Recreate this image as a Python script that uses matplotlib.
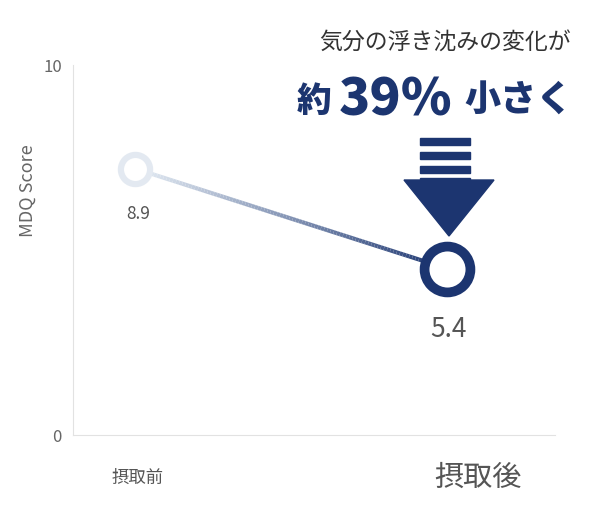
import matplotlib
matplotlib.use("Agg")
import matplotlib.pyplot as plt
import numpy as np
from matplotlib.collections import LineCollection
from matplotlib.patches import Polygon, Rectangle

plt.rcParams['font.family'] = ['Noto Sans CJK JP', 'DejaVu Sans']

categories = ["摂取前", "摂取後"]
plot_pos = [7.2, 4.5]          # drawn heights
value_labels = ["8.9", "5.4"]
yticks = [0, 10]

W, H = 606, 530
fig = plt.figure(figsize=(W/100, H/100), dpi=100)
ax = fig.add_axes([73/W, (H-435)/H, (555-73)/W, 370/H])
ax.set_xlim(-0.199, 1.346)
ax.set_ylim(0, 10)
for s in ["top", "right"]:
    ax.spines[s].set_visible(False)
for s in ["left", "bottom"]:
    ax.spines[s].set_color("#e2e2e2")
ax.set_yticks(yticks)
ax.set_yticklabels([str(t) for t in yticks], color="#666", fontsize=12)
ax.tick_params(length=0, pad=8)
ax.set_xticks([])
ax.set_ylabel("MDQ Score", color="#666", fontsize=13, labelpad=8)
ax.yaxis.set_label_coords(-0.075, 0.66)

x = np.arange(len(plot_pos))
t = np.linspace(0, 1, 100)
xs = x[0] + (x[1]-x[0])*t
ys = plot_pos[0] + (plot_pos[1]-plot_pos[0])*t
pts = np.array([xs, ys]).T.reshape(-1, 1, 2)
segs = np.concatenate([pts[:-1], pts[1:]], axis=1)
c0 = np.array([0.90, 0.93, 0.96]); c1 = np.array([0.11, 0.21, 0.44])
cols = [c0 + (c1-c0)*v for v in t[:-1]]
ax.add_collection(LineCollection(segs, colors=cols, linewidths=3, zorder=2))
ax.plot(x[0], plot_pos[0], 'o', ms=21, mfc='white', mec='#e3e9f1', mew=4.5, zorder=3, clip_on=False)
ax.plot(x[1], plot_pos[1], 'o', ms=33, mfc='white', mec='#1c3570', mew=7, zorder=3, clip_on=False)

ax.annotate(value_labels[0], (x[0], plot_pos[0]), xytext=(2, -33), textcoords='offset points',
            ha='center', va='center', fontsize=12.5, color='#555')
ax.annotate(value_labels[1], (x[1], plot_pos[1]), xytext=(1, -44), textcoords='offset points',
            ha='center', va='center', fontsize=19, color='#555')

fig.text(138/W, 1-478/H, categories[0], ha='center', va='center', fontsize=12.5, color='#555')
fig.text(478/W, 1-478/H, categories[1], ha='center', va='center', fontsize=21, color='#555')

navy = '#1c3570'
fig.text(445/W, 1-42/H, "気分の浮き沈みの変化が", ha='center', va='center', fontsize=16.5, color='#333')
fig.text(297/W, 1-101/H, "約", ha='left', va='center', fontsize=25, color=navy, fontweight='black')
fig.text(339/W, 1-100/H, "39%", ha='left', va='center', fontsize=37, color=navy, fontweight='black')
fig.text(464/W, 1-101/H, "小さく", ha='left', va='center', fontsize=26, color=navy, fontweight='black')

def fx(px): return px/W
def fy(py): return 1-py/H
for yb in [138, 152, 166]:
    fig.patches.append(Rectangle((fx(420), fy(yb+7)), 50/W, 7/H, transform=fig.transFigure, color=navy))
fig.patches.append(Rectangle((fx(420), fy(182)), 50/W, 4/H, transform=fig.transFigure, color=navy))
fig.patches.append(Polygon([(fx(404), fy(180)), (fx(494), fy(180)), (fx(449), fy(236))],
                           closed=True, transform=fig.transFigure, color=navy))

fig.savefig("out.png", dpi=100)
